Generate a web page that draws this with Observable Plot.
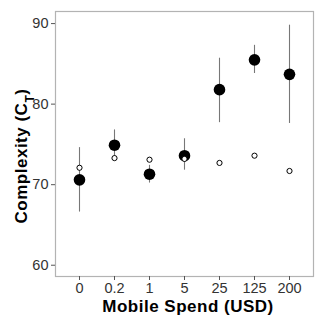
<!DOCTYPE html>
<html><head><meta charset="utf-8">
<script src="https://cdn.jsdelivr.net/npm/d3@7"></script>
<script src="https://cdn.jsdelivr.net/npm/@observablehq/plot@0.6"></script>
<style>body{margin:0;background:#fff;} svg{display:block;}</style>
</head><body><div id="chart"></div>
<script>
const categories = ["0", "0.2", "1", "5", "25", "125", "200"];
const filledMean = [70.6, 74.9, 71.3, 73.6, 81.8, 85.5, 83.7];
const filledLow  = [66.6, 73.1, 70.2, 71.8, 77.7, 83.8, 77.6];
const filledHigh = [74.6, 76.8, 72.4, 75.7, 85.7, 87.3, 89.8];
const openMean   = [72.1, 73.3, 73.1, 73.2, 72.7, 73.6, 71.7];
const yTicks = [60, 70, 80, 90];

const filled = categories.map((c, i) => ({c, y: filledMean[i], lo: filledLow[i], hi: filledHigh[i]}));
const open = categories.map((c, i) => ({c, y: openMean[i]}));

const font = "Liberation Sans, Arial, sans-serif";
const svg = Plot.plot({
  width: 315, height: 316,
  marginLeft: 55, marginRight: 2, marginTop: 11, marginBottom: 40,
  style: {fontFamily: font, fontSize: "14.5px", color: "#333", background: "#fff"},
  x: {type: "point", domain: categories, padding: 0.6, label: null},
  y: {domain: [58.6, 91.5], label: null},
  marks: [
    Plot.frame({stroke: "#b3b3b3", strokeWidth: 1.2}),
    Plot.axisY({ticks: yTicks, tickSize: 4, tickPadding: 3, stroke: "#555", fill: "#333", fontSize: 14.5, label: null}),
    Plot.axisX({tickSize: 4, tickPadding: 2, stroke: "#555", fill: "#333", fontSize: 14.5, label: null}),
    Plot.ruleX(filled, {x: "c", y1: "lo", y2: "hi", stroke: "#777", strokeWidth: 1.1}),
    Plot.dot(filled, {x: "c", y: "y", r: 5.8, fill: "#000", stroke: "none"}),
    Plot.dot(open, {x: "c", y: "y", r: 2.6, fill: "#fff", stroke: "#000", strokeWidth: 1})
  ]
});

const s = d3.select(svg);
s.append("text")
  .attr("x", 188).attr("y", 312)
  .attr("text-anchor", "middle")
  .style("font-family", font).style("font-weight", "bold").style("font-size", "17px")
  .style("letter-spacing", "0.5px").attr("fill", "#000")
  .text("Mobile Spend (USD)");
const yt = s.append("text")
  .attr("transform", "translate(27,156) rotate(-90)")
  .attr("text-anchor", "middle")
  .style("font-family", font).style("font-weight", "bold").style("font-size", "17px")
  .style("letter-spacing", "0.5px").attr("fill", "#000");
yt.append("tspan").text("Complexity (C");
yt.append("tspan").attr("baseline-shift", "sub").style("font-size", "12px").text("T");
yt.append("tspan").text(")");

document.getElementById("chart").appendChild(svg);
</script></body></html>
